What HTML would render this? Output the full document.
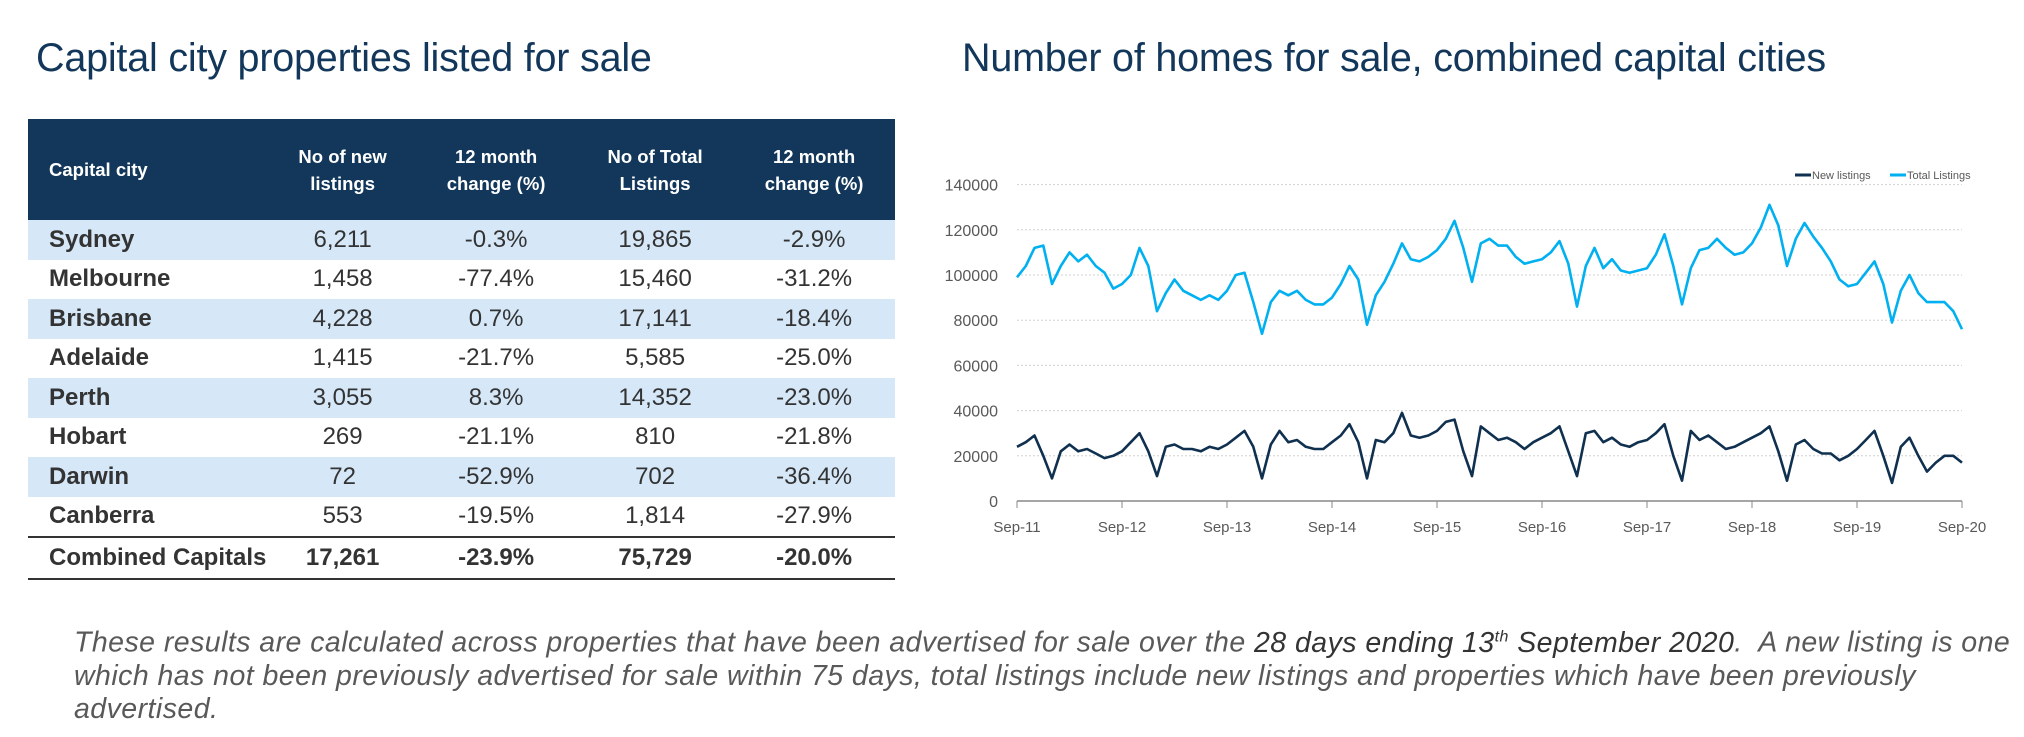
<!DOCTYPE html>
<html><head><meta charset="utf-8"><style>
body{margin:0;width:2024px;height:737px;background:#fff;font-family:"Liberation Sans",sans-serif;position:relative;overflow:hidden}
.title{position:absolute;font-size:39.5px;color:#12375a;top:36px;white-space:nowrap;letter-spacing:-0.2px}
table{position:absolute;left:28px;top:119px;width:867px;border-collapse:collapse}
th{background:#12375a;color:#fff;font-size:18.5px;font-weight:bold;height:99px;line-height:27px;text-align:center}
th:first-child{text-align:left;padding-left:21px}
td{font-size:24px;height:39.5px;padding:0;text-align:center;color:#333}
td:first-child{text-align:left;padding-left:21px;font-weight:bold;color:#333}
tr.alt td{background:#d6e8f8}
tr.tot td{font-weight:bold;border-top:2px solid #333;border-bottom:2px solid #333;height:40px}
.foot{position:absolute;left:74px;top:620px;width:1950px;font-style:italic;color:#595959;font-size:28.5px;line-height:33px;white-space:nowrap;letter-spacing:0.45px}
</style></head><body>
<div class="title" style="left:36px">Capital city properties listed for sale</div>
<div class="title" style="left:962px">Number of homes for sale, combined capital cities</div>
<table>
<tr><th style="width:220px">Capital city</th><th>No of new<br>listings</th><th>12 month<br>change (%)</th><th>No of Total<br>Listings</th><th>12 month<br>change (%)</th></tr>
<tr class="alt"><td>Sydney</td><td>6,211</td><td>-0.3%</td><td>19,865</td><td>-2.9%</td></tr>
<tr><td>Melbourne</td><td>1,458</td><td>-77.4%</td><td>15,460</td><td>-31.2%</td></tr>
<tr class="alt"><td>Brisbane</td><td>4,228</td><td>0.7%</td><td>17,141</td><td>-18.4%</td></tr>
<tr><td>Adelaide</td><td>1,415</td><td>-21.7%</td><td>5,585</td><td>-25.0%</td></tr>
<tr class="alt"><td>Perth</td><td>3,055</td><td>8.3%</td><td>14,352</td><td>-23.0%</td></tr>
<tr><td>Hobart</td><td>269</td><td>-21.1%</td><td>810</td><td>-21.8%</td></tr>
<tr class="alt"><td>Darwin</td><td>72</td><td>-52.9%</td><td>702</td><td>-36.4%</td></tr>
<tr><td>Canberra</td><td>553</td><td>-19.5%</td><td>1,814</td><td>-27.9%</td></tr>
<tr class="tot"><td>Combined Capitals</td><td>17,261</td><td>-23.9%</td><td>75,729</td><td>-20.0%</td></tr>
</table>
<div class="foot">These results are calculated across properties that have been advertised for sale over the <b style="font-weight:normal;color:#333">28 days ending 13<sup style="font-size:16px">th</sup> September 2020</b>.&nbsp; A new listing is one<br>which has not been previously advertised for sale within 75 days, total listings include new listings and properties which have been previously<br>advertised.</div>
<svg id="chart" width="2024" height="737" style="position:absolute;left:0;top:0"></svg>
<script>
const yTicks=[0,20000,40000,60000,80000,100000,120000,140000];
const xLabels=["Sep-11","Sep-12","Sep-13","Sep-14","Sep-15","Sep-16","Sep-17","Sep-18","Sep-19","Sep-20"];
const totalListings=[99,104,112,113,96,104,110,106,109,104,101,94,96,100,112,104,84,92,98,93,91,89,91,89,93,100,101,88,74,88,93,91,93,89,87,87,90,96,104,98,78,91,97,105,114,107,106,108,111,116,124,112,97,114,116,113,113,108,105,106,107,110,115,105,86,104,112,103,107,102,101,102,103,109,118,104,87,103,111,112,116,112,109,110,114,121,131,122,104,116,123,117,112,106,98,95,96,101,106,96,79,93,100,92,88,88,88,84,76];
const newListings=[24,26,29,20,10,22,25,22,23,21,19,20,22,26,30,22,11,24,25,23,23,22,24,23,25,28,31,24,10,25,31,26,27,24,23,23,26,29,34,26,10,27,26,30,39,29,28,29,31,35,36,22,11,33,30,27,28,26,23,26,28,30,33,22,11,30,31,26,28,25,24,26,27,30,34,20,9,31,27,29,26,23,24,26,28,30,33,22,9,25,27,23,21,21,18,20,23,27,31,20,8,24,28,20,13,17,20,20,17];
const NS="http://www.w3.org/2000/svg";
const svg=document.getElementById('chart');
const X0=1017,X1=1962,Y0=501,Y1=184.6;
const ys=v=>Y0-(v/140000)*(Y0-Y1);
const xs=m=>X0+(m/108)*(X1-X0);
function mk(t,a){const e=document.createElementNS(NS,t);for(const k in a)e.setAttribute(k,a[k]);svg.appendChild(e);return e;}
yTicks.forEach(v=>{
  if(v>0){const g=mk('line',{x1:X0,x2:X1,y1:ys(v),y2:ys(v),stroke:'#d0d0d0','stroke-dasharray':'2,2'});
  
  }
  const t=mk('text',{x:998,y:ys(v)+6,'text-anchor':'end','font-size':'16','fill':'#595959','font-family':'Liberation Sans, sans-serif'});
  t.textContent=v;
  
  
});
const ax=mk('line',{x1:X0,x2:X1,y1:Y0,y2:Y0,stroke:'#888','stroke-width':1.5});


xLabels.forEach((l,i)=>{
  const x=xs(i*12);
  const tk=mk('line',{x1:x,x2:x,y1:Y0,y2:Y0+7,stroke:'#888'});
  
  
  const t=mk('text',{x:x,y:532,'text-anchor':'middle','font-size':'15','fill':'#595959','font-family':'Liberation Sans, sans-serif'});
  t.textContent=l;
  
  
});
function line(arr,col,name){
  const p=arr.map((v,i)=>xs(i).toFixed(1)+','+ys(v*1000).toFixed(1)).join(' ');
  const e=mk('polyline',{points:p,fill:'none',stroke:col,'stroke-width':2.6,'stroke-linejoin':'round'});
  
  
}
line(totalListings,'#00b0f0','total-listings-line');
line(newListings,'#10304f','new-listings-line');
const legend=[["New listings","#10304f",1795],["Total Listings","#00b0f0",1890]];
legend.forEach(([n,c,x])=>{
  const s=mk('line',{x1:x,x2:x+16,y1:175,y2:175,stroke:c,'stroke-width':3});
  
  
  const t=mk('text',{x:x+17,y:179,'font-size':'11','fill':'#595959','font-family':'Liberation Sans, sans-serif'});
  t.textContent=n;
  
  
});
</script>
</body></html>
